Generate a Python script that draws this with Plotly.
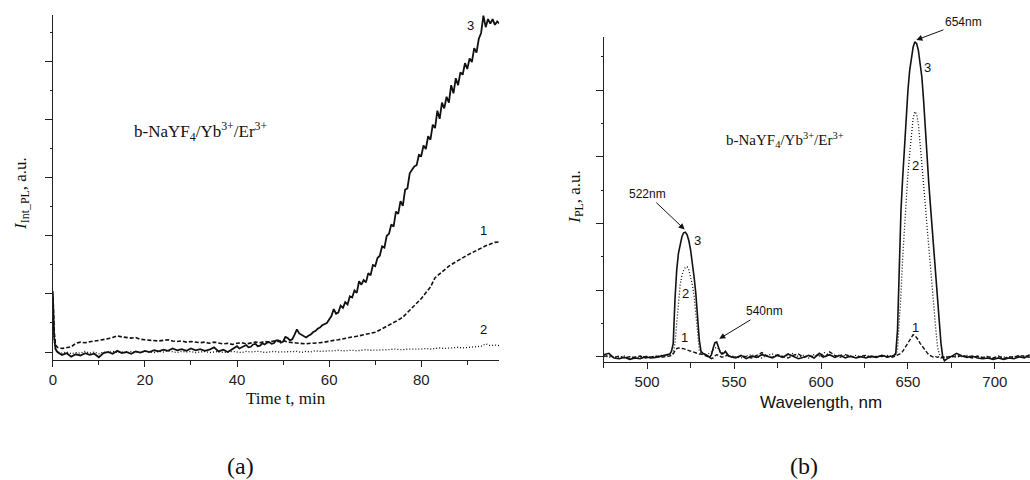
import plotly.graph_objects as go

# ---------------- Panel (a): integrated PL vs time ----------------
t_min = [0, 0.3, 0.6] + [1, 2, 3, 4, 5, 6, 7, 8, 9, 10,
         11, 12, 13, 14, 15, 16, 17, 18, 19, 20,
         21, 22, 23, 24, 25, 26, 27, 28, 29, 30,
         31, 32, 33, 34, 35, 36, 37, 38, 39, 40,
         41, 42, 43, 44, 45, 46, 47, 48, 49, 50,
         51, 52, 53, 54, 55, 56, 57, 58, 59, 60,
         61, 62, 63, 64, 65, 66, 67, 68, 69, 70,
         71, 72, 73, 74, 75, 76, 77, 78, 79, 80,
         81, 82, 83, 84, 85, 86, 87, 88, 89, 90,
         91, 92, 93, 94, 95, 96, 97]

# curve 3 is sampled more finely (every 0.5 min after 40 min)
t_min_3 = [0, 0.3, 0.6, 1, 2, 3, 4, 5, 6, 7, 8, 9, 10,
           11, 12, 13, 14, 15, 16, 17, 18, 19, 20,
           21, 22, 23, 24, 25, 26, 27, 28, 29, 30,
           31, 32, 33, 34, 35, 36, 37, 38, 39,
           40, 40.5, 41, 41.5, 42, 42.5, 43, 43.5, 44, 44.5,
           45, 45.5, 46, 46.5, 47, 47.5, 48, 48.5, 49, 49.5,
           50, 50.5, 51, 51.5, 52, 52.5, 53, 53.5, 54, 54.5,
           55, 55.5, 56, 56.5, 57, 57.5, 58, 58.5, 59, 59.5,
           60, 60.5, 61, 61.5, 62, 62.5, 63, 63.5, 64, 64.5,
           65, 65.5, 66, 66.5, 67, 67.5, 68, 68.5, 69, 69.5,
           70, 70.5, 71, 71.5, 72, 72.5, 73, 73.5, 74, 74.5,
           75, 75.5, 76, 76.5, 77, 77.5, 78, 78.5, 79, 79.5,
           80, 80.5, 81, 81.5, 82, 82.5, 83, 83.5, 84, 84.5,
           85, 85.5, 86, 86.5, 87, 87.5, 88, 88.5, 89, 89.5,
           90, 90.5, 91, 91.5, 92, 92.5, 93, 93.5, 94, 94.5,
           95, 95.5, 96, 96.5, 97]

int_pl_3 = [1.0, 0.25, 0.05, 0.0, -0.05, -0.02, -0.08, -0.04, -0.06, -0.02, -0.05, -0.03, -0.09,
            -0.02, 0.0, -0.03, 0.02, -0.02, 0.0, -0.03, 0.01, -0.01, 0.02,
            0.0, 0.03, 0.01, 0.04, 0.02, 0.06, 0.03, 0.05, 0.02, 0.06,
            0.03, 0.05, 0.02, 0.04, 0.08, 0.01, 0.04, 0.0, 0.05,
            0.1, 0.06, 0.08, 0.11, 0.12, 0.08, 0.09, 0.13, 0.14, 0.1,
            0.11, 0.15, 0.13, 0.16, 0.17, 0.14, 0.15, 0.2, 0.2, 0.16,
            0.18, 0.26, 0.24, 0.2, 0.22, 0.3, 0.39, 0.32, 0.3, 0.27,
            0.25, 0.28, 0.3, 0.34, 0.36, 0.4, 0.42, 0.46, 0.48, 0.5,
            0.56, 0.62, 0.74, 0.66, 0.68, 0.8, 0.76, 0.86, 0.82, 0.96,
            0.94, 1.06, 1.02, 1.22, 1.16, 1.24, 1.2, 1.36, 1.32, 1.5,
            1.48, 1.62, 1.66, 1.82, 1.8, 2.0, 2.04, 2.2, 2.16, 2.42,
            2.38, 2.6, 2.52, 2.8, 2.82, 3.08, 3.14, 3.2, 3.22, 3.4,
            3.38, 3.56, 3.5, 3.72, 3.66, 3.92, 3.86, 4.16, 4.02, 4.3,
            4.2, 4.4, 4.3, 4.6, 4.46, 4.72, 4.6, 4.82, 4.78, 4.98,
            4.88, 5.06, 5.0, 5.24, 5.16, 5.4, 5.5, 5.8, 5.6, 5.74,
            5.66, 5.74, 5.64, 5.7, 5.66]

int_pl_1 = [1.05, 0.35, 0.12] + [0.08, 0.06, 0.07, 0.09, 0.15, 0.17, 0.16, 0.18, 0.19, 0.2,
            0.21, 0.23, 0.25, 0.28, 0.26, 0.25, 0.24, 0.25, 0.22, 0.21,
            0.2, 0.2, 0.19, 0.2, 0.21, 0.19, 0.18, 0.19, 0.17, 0.18,
            0.17, 0.16, 0.17, 0.15, 0.17, 0.16, 0.14, 0.15, 0.13, 0.15,
            0.16, 0.14, 0.16, 0.17, 0.16, 0.18, 0.17, 0.19, 0.18, 0.2,
            0.17, 0.16, 0.15, 0.14, 0.14, 0.15, 0.15, 0.16, 0.17, 0.19,
            0.2, 0.21, 0.23, 0.24, 0.26, 0.27, 0.29, 0.3, 0.32, 0.34,
            0.38, 0.42, 0.46, 0.5, 0.55, 0.6, 0.68, 0.76, 0.84, 0.92,
            1.02, 1.12, 1.28, 1.35, 1.42, 1.48, 1.53, 1.58, 1.62, 1.67,
            1.71, 1.75, 1.8, 1.83, 1.86, 1.89, 1.9]

int_pl_2 = [0.95, 0.2, 0.03] + [0.0, -0.02, 0.0, -0.03, -0.01, -0.02, 0.01, -0.02, 0.0, -0.03,
            0.0, -0.01, 0.01, -0.01, 0.0, -0.02, 0.01, 0.0, -0.01, 0.01,
            0.0, -0.01, 0.01, 0.0, 0.02, 0.0, -0.01, 0.01, 0.0, 0.01,
            -0.01, 0.0, 0.01, -0.01, 0.0, 0.01, -0.01, 0.0, 0.01, 0.0,
            -0.01, 0.01, 0.0, 0.01, 0.01, -0.01, 0.0, 0.01, 0.0, 0.0,
            0.01, 0.0, 0.01, -0.01, 0.01, 0.0, 0.02, 0.01, 0.02, 0.02,
            0.02, 0.03, 0.02, 0.03, 0.03, 0.02, 0.03, 0.04, 0.03, 0.03,
            0.04, 0.03, 0.04, 0.05, 0.04, 0.04, 0.05, 0.05, 0.04, 0.05,
            0.06, 0.05, 0.06, 0.07, 0.06, 0.07, 0.07, 0.08, 0.07, 0.08,
            0.09, 0.09, 0.1, 0.14, 0.11, 0.12, 0.11]

# ---------------- Panel (b): PL spectra ----------------
wavelength = [475, 478, 481, 484, 487, 490, 493, 496, 499, 502, 505, 508, 511,
              512, 513, 514, 515, 516, 517, 518, 519, 520, 521, 522, 523, 524, 525,
              526, 527, 528, 529, 530, 531, 532, 533, 534, 535, 536, 537, 538, 539,
              540, 541, 542, 543, 544, 545, 546, 547, 548,
              551, 554, 557, 560, 563, 566, 569, 572, 575, 578, 581, 584, 587, 590,
              593, 596, 599, 602, 605, 608, 611, 614, 617, 620, 623, 626, 629, 632,
              635, 638,
              640, 641, 642, 643, 644, 645, 646, 647, 648, 649, 650, 651, 652, 653,
              654, 655, 656, 657, 658, 659, 660, 661, 662, 663, 664, 665, 666, 667,
              668, 669, 670, 671, 672,
              675, 678, 681, 684, 687, 690, 693, 696, 699, 702, 705, 708, 711, 714,
              717, 720]

pl_3 = [0.03, 0.05, -0.02, -0.03, -0.01, -0.04, -0.02, -0.03, 0.0, -0.02, -0.01, 0.01, 0.02,
        0.03, 0.04, 0.08, 0.2, 0.85, 1.3, 1.55, 1.7, 1.8, 1.86, 1.87, 1.83, 1.74, 1.6,
        1.42, 1.2, 0.95, 0.6, 0.25, 0.08, 0.05, 0.04, 0.03, 0.01, -0.01, 0.03, 0.13, 0.21,
        0.22, 0.15, 0.07, 0.04, 0.05, 0.08, 0.04, 0.01, 0.0,
        -0.02, 0.02, -0.03, 0.01, -0.01, 0.03, 0.0, -0.02, 0.02, -0.01, 0.04, 0.0, -0.03, -0.01,
        0.02, -0.02, 0.05, 0.0, 0.03, -0.01, 0.02, -0.02, 0.01, -0.02, 0.0, -0.02, 0.01, -0.01,
        0.02, 0.0,
        0.0, 0.01, 0.02, 0.05, 0.4, 1.3, 2.2, 2.7, 3.2, 3.6, 4.0, 4.3, 4.5, 4.65,
        4.73, 4.7, 4.6, 4.42, 4.2, 3.85, 3.4, 2.95, 2.6, 2.25, 1.9, 1.55, 1.22, 0.9,
        0.55, 0.2, 0.0, -0.06, -0.04,
        0.0, 0.05, 0.01, -0.01, 0.01, -0.02, -0.03, -0.02, -0.04, -0.02, -0.04, -0.02, -0.03, 0.0,
        -0.02, 0.03]

pl_2 = [0.02, -0.01, 0.0, -0.02, 0.01, -0.03, 0.0, -0.02, 0.01, -0.01, 0.0, 0.02, 0.01,
        0.02, 0.02, 0.03, 0.05, 0.2, 0.5, 0.85, 1.08, 1.22, 1.3, 1.34, 1.35, 1.3, 1.2,
        1.08, 0.92, 0.62, 0.3, 0.1, 0.05, 0.04, 0.03, 0.03, 0.04, 0.05, 0.07, 0.1, 0.13,
        0.14, 0.12, 0.08, 0.06, 0.05, 0.06, 0.03, 0.02, 0.01,
        0.0, -0.02, 0.01, 0.03, 0.0, -0.02, 0.02, 0.04, 0.01, -0.01, 0.02, 0.05, 0.0, 0.02,
        -0.02, 0.03, 0.01, 0.06, 0.02, 0.0, 0.03, 0.01, -0.01, 0.02, 0.0, 0.01, -0.02, 0.01,
        0.0, 0.02,
        0.01, 0.0, 0.02, 0.03, 0.1, 0.45, 0.95, 1.5, 1.95, 2.35, 2.75, 3.05, 3.35, 3.58,
        3.68, 3.64, 3.5, 3.22, 2.9, 2.6, 2.28, 1.95, 1.62, 1.3, 1.05, 0.72, 0.42, 0.15,
        0.04, 0.0, -0.02, -0.01, 0.0,
        -0.01, 0.02, 0.0, 0.02, -0.01, 0.0, -0.02, 0.01, -0.03, -0.01, 0.0, -0.03, 0.01, -0.02,
        0.02, 0.0]

pl_1 = [0.0, 0.02, -0.01, 0.01, -0.02, 0.0, -0.01, 0.01, -0.02, 0.0, 0.01, -0.01, 0.0,
        0.0, 0.01, 0.02, 0.04, 0.09, 0.12, 0.13, 0.13, 0.13, 0.12, 0.11, 0.1, 0.09, 0.08,
        0.07, 0.06, 0.05, 0.05, 0.04, 0.04, 0.03, 0.03, 0.02, 0.01, -0.01, -0.03, -0.02, 0.01,
        0.03, 0.02, 0.0, -0.01, 0.0, 0.01, 0.02, 0.01, 0.0,
        -0.01, 0.01, 0.0, -0.02, 0.02, 0.06, 0.01, -0.01, 0.03, 0.0, -0.02, 0.02, 0.04, -0.01,
        0.01, 0.0, 0.03, -0.02, 0.07, 0.02, -0.01, 0.03, 0.0, -0.02, 0.01, 0.02, -0.01, 0.0,
        0.01, -0.01,
        0.0, -0.01, 0.0, 0.01, 0.02, 0.03, 0.05, 0.08, 0.12, 0.16, 0.21, 0.26, 0.3, 0.33,
        0.32, 0.29, 0.25, 0.2, 0.16, 0.12, 0.09, 0.06, 0.03, 0.01, 0.0, -0.01, 0.0, -0.01,
        0.0, -0.02, -0.01, 0.0, -0.01,
        0.01, -0.01, 0.02, 0.0, -0.02, 0.01, -0.01, 0.0, -0.02, 0.01, -0.03, 0.0, -0.01, 0.02,
        0.0, -0.01]

for arr in (int_pl_1, int_pl_2):
    assert len(arr) == len(t_min), (len(arr), len(t_min))
assert len(int_pl_3) == len(t_min_3), (len(int_pl_3), len(t_min_3))
for arr in (pl_1, pl_2, pl_3):
    assert len(arr) == len(wavelength), (len(arr), len(wavelength))

W, H = 1030, 480
def px(x):
    return x / W
def py(y):
    return 1 - y / H

BLACK = "#111111"
SERIF = "Liberation Serif, Times New Roman, serif"
SANS = "Liberation Sans, Arial, sans-serif"

fig = go.Figure()

# Panel (a)
fig.add_trace(go.Scatter(x=t_min, y=int_pl_1, mode="lines", xaxis="x", yaxis="y",
                         line=dict(color=BLACK, width=1.6, dash="4px,2px")))
fig.add_trace(go.Scatter(x=t_min, y=int_pl_2, mode="lines", xaxis="x", yaxis="y",
                         line=dict(color=BLACK, width=1.3, dash="1px,2px")))
fig.add_trace(go.Scatter(x=t_min_3, y=int_pl_3, mode="lines", xaxis="x", yaxis="y",
                         line=dict(color=BLACK, width=1.8)))

# Panel (b)
fig.add_trace(go.Scatter(x=wavelength, y=pl_1, mode="lines", xaxis="x2", yaxis="y2",
                         line=dict(color=BLACK, width=1.4, dash="4px,2px")))
fig.add_trace(go.Scatter(x=wavelength, y=pl_2, mode="lines", xaxis="x2", yaxis="y2",
                         line=dict(color=BLACK, width=1.3, dash="1px,2px")))
fig.add_trace(go.Scatter(x=wavelength, y=pl_3, mode="lines", xaxis="x2", yaxis="y2",
                         line=dict(color=BLACK, width=1.6)))

axis_common = dict(showline=True, linecolor="#222", linewidth=1.3, showgrid=False,
                   zeroline=False, mirror=False, tickcolor="#222")

fig.update_layout(
    width=W, height=H,
    margin=dict(l=0, r=0, t=0, b=0),
    paper_bgcolor="white", plot_bgcolor="white",
    showlegend=False,
    xaxis=dict(domain=[px(49), px(497)], range=[0, 96.9], anchor="y",
               ticks="outside", ticklen=6, dtick=20, tick0=0,
               minor=dict(dtick=10, ticks="outside", ticklen=4, tickcolor="#222"),
               tickfont=dict(family=SANS, size=15, color="#222"), **axis_common),
    yaxis=dict(domain=[py(360), py(15)], range=[-0.138, 5.81], anchor="x",
               ticks="outside", ticklen=7, dtick=1, tick0=0, showticklabels=False,
               minor=dict(dtick=0.5, ticks="outside", ticklen=2, tickcolor="#222"),
               **axis_common),
    xaxis2=dict(domain=[px(602), 1.0], range=[475, 720.2], anchor="y2",
                ticks="outside", ticklen=6, dtick=50, tick0=500,
                minor=dict(dtick=25, ticks="outside", ticklen=5, tickcolor="#222"),
                tickfont=dict(family=SANS, size=15, color="#222"), **axis_common),
    yaxis2=dict(domain=[py(362), py(37)], range=[-0.08, 4.8], anchor="x2",
                ticks="outside", ticklen=7, dtick=1, tick0=0, showticklabels=False,
                minor=dict(dtick=0.5, ticks="outside", ticklen=2, tickcolor="#222"),
                **axis_common),
)

ann = []
def txt(x, y, s, size=13, family=SANS, angle=0):
    ann.append(dict(x=px(x), y=py(y), xref="paper", yref="paper", text=s,
                    showarrow=False, textangle=angle, xanchor="center", yanchor="middle",
                    font=dict(family=family, size=size, color="#111")))

# Panel (a) texts
txt(283, 398, "Time t, min", size=17, family=SERIF)
txt(18, 193, "<i>I</i><sub>Int_PL</sub>, a.u.", size=17, family=SERIF, angle=-90)
txt(198, 131, "b-NaYF<sub>4</sub>/Yb<sup>3+</sup>/Er<sup>3+</sup>", size=17, family=SERIF)
txt(468, 25, "3")
txt(481, 230, "1")
txt(481, 329, "2")
txt(237, 466, "(a)", size=24, family=SERIF)

# Panel (b) texts
txt(820, 402, "Wavelength, nm", size=17)
txt(574, 197, "<i>I</i><sub>PL</sub>, a.u.", size=17, family=SERIF, angle=-90)
txt(784, 140, "b-NaYF<sub>4</sub>/Yb<sup>3+</sup>/Er<sup>3+</sup>", size=15, family=SERIF)
txt(927, 67, "3")
txt(915, 165, "2")
txt(915, 327, "1")
txt(696, 240, "3")
txt(684, 293, "2")
txt(683, 337, "1")
txt(803, 466, "(b)", size=24, family=SERIF)

# arrows to the peaks
def arrow(xd, yd, s, ax, ay):
    ann.append(dict(x=xd, y=yd, xref="x2", yref="y2", text=s, showarrow=True,
                    ax=ax, ay=ay, arrowhead=2, arrowsize=1.2, arrowwidth=1,
                    arrowcolor="#111", standoff=1,
                    font=dict(family=SANS, size=12, color="#111")))

arrow(522, 1.9, "522nm", -38, -36)
arrow(541, 0.26, "540nm", 46, -28)
arrow(654.3, 4.75, "654nm", 48, -18)

fig.update_layout(annotations=ann)
fig.write_html("out.html")
